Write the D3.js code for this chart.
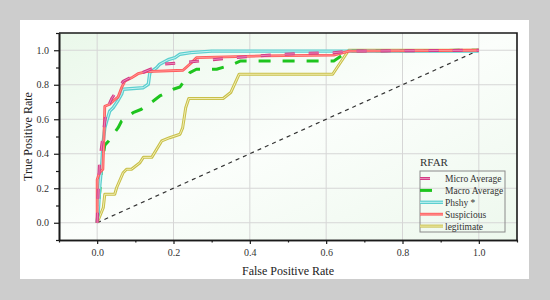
<!DOCTYPE html>
<html>
<head>
<meta charset="utf-8">
<script src="https://cdn.jsdelivr.net/npm/d3@7"></script>
<style>
  body { margin: 0; background: #cdcdcd; }
  svg { display: block; }
</style>
</head>
<body>
<div id="chart"></div>
<script>
// ROC curves
var microX = [0, 0.002, 0.004, 0.006, 0.012, 0.018, 0.022, 0.03, 0.038, 0.05, 0.068, 0.09, 0.112, 0.14, 0.173, 0.225, 0.287, 0.356, 0.417, 0.49, 0.55, 0.62, 0.66, 1.0];
var microY = [0, 0.14, 0.25, 0.34, 0.45, 0.55, 0.62, 0.68, 0.72, 0.76, 0.82, 0.845, 0.864, 0.89, 0.919, 0.928, 0.942, 0.957, 0.967, 0.977, 0.983, 0.986, 0.995, 1.0];

var macroX = [0, 0.003, 0.007, 0.012, 0.02, 0.03, 0.055, 0.064, 0.094, 0.116, 0.147, 0.164, 0.199, 0.217, 0.243, 0.26, 0.313, 0.356, 0.376, 0.62, 0.645, 0.66, 1.0];
var macroY = [0, 0.1, 0.184, 0.33, 0.45, 0.474, 0.551, 0.59, 0.638, 0.658, 0.706, 0.735, 0.774, 0.787, 0.87, 0.89, 0.89, 0.919, 0.938, 0.938, 0.975, 0.996, 1.0];

var phishyX = [0, 0.004, 0.007, 0.011, 0.016, 0.02, 0.025, 0.033, 0.042, 0.055, 0.064, 0.068, 0.121, 0.134, 0.138, 0.156, 0.164, 0.186, 0.204, 0.217, 0.245, 0.3, 1.0];
var phishyY = [0, 0.1, 0.22, 0.31, 0.474, 0.55, 0.59, 0.648, 0.667, 0.71, 0.745, 0.774, 0.783, 0.803, 0.87, 0.899, 0.919, 0.945, 0.957, 0.977, 0.986, 0.995, 0.995];

var suspX = [0, 0, 0.006, 0.015, 0.018, 0.02, 0.033, 0.042, 0.055, 0.064, 0.073, 0.09, 0.107, 0.129, 0.225, 0.247, 0.26, 0.43, 0.62, 0.66, 1.0];
var suspY = [0, 0.25, 0.29, 0.31, 0.52, 0.675, 0.687, 0.706, 0.73, 0.783, 0.822, 0.84, 0.864, 0.876, 0.884, 0.928, 0.957, 0.967, 0.972, 0.995, 1.0];

var legitX = [0, 0.016, 0.02, 0.046, 0.051, 0.068, 0.077, 0.09, 0.112, 0.121, 0.143, 0.169, 0.19, 0.217, 0.224, 0.232, 0.24, 0.33, 0.35, 0.372, 0.617, 0.659, 1.0];
var legitY = [0, 0.087, 0.165, 0.165, 0.203, 0.29, 0.31, 0.31, 0.348, 0.379, 0.379, 0.474, 0.493, 0.513, 0.55, 0.667, 0.72, 0.72, 0.755, 0.861, 0.861, 1.0, 1.0];

var chanceX = [0, 1];
var chanceY = [0, 1];

var majorTicks = [0, 0.2, 0.4, 0.6, 0.8, 1.0];
var minorTicks = [-0.1, 0.1, 0.3, 0.5, 0.7, 0.9, 1.1];

var seriesNames = ['Micro Average', 'Macro Average', 'Phshy *', 'Suspicious', 'legitimate'];
var legendTitle = 'RFAR';

var width = 550, height = 300;
var pLeft = 59, pRight = 517, pTop = 33, pBottom = 240;

var svg = d3.select('#chart').append('svg')
    .attr('width', width)
    .attr('height', height);

// white panel
svg.append('rect')
    .attr('x', 20).attr('y', 20)
    .attr('width', 509).attr('height', 259)
    .style('fill', '#ffffff');

var defs = svg.append('defs');
var grad = defs.append('linearGradient')
    .attr('id', 'bg')
    .attr('x1', '0').attr('y1', '0')
    .attr('x2', '1').attr('y2', '1');
grad.append('stop').attr('offset', '0%').attr('stop-color', '#eaf8ea');
grad.append('stop').attr('offset', '50%').attr('stop-color', '#fbfefb');
grad.append('stop').attr('offset', '100%').attr('stop-color', '#edf8ed');

var x = d3.scaleLinear().domain([-0.1, 1.1]).range([pLeft, pRight]);
var y = d3.scaleLinear().domain([-0.1, 1.1]).range([pBottom, pTop]);

svg.append('rect')
    .attr('x', pLeft).attr('y', pTop)
    .attr('width', pRight - pLeft).attr('height', pBottom - pTop)
    .style('fill', 'url(#bg)');

// grid
svg.append('g').selectAll('line').data(majorTicks)
  .enter().append('line')
    .attr('x1', function(d) { return x(d); })
    .attr('x2', function(d) { return x(d); })
    .attr('y1', pTop).attr('y2', pBottom)
    .style('stroke', '#d6d6d6').style('stroke-width', 1);
svg.append('g').selectAll('line').data(majorTicks)
  .enter().append('line')
    .attr('y1', function(d) { return y(d); })
    .attr('y2', function(d) { return y(d); })
    .attr('x1', pLeft).attr('x2', pRight)
    .style('stroke', '#d6d6d6').style('stroke-width', 1);

// axes
var fmt = d3.format('.1f');
svg.append('g')
    .attr('transform', 'translate(0,' + pBottom + ')')
    .call(d3.axisBottom(x).tickValues(majorTicks).tickFormat(fmt).tickSize(4).tickSizeOuter(0).tickPadding(5));
svg.append('g')
    .attr('transform', 'translate(' + pLeft + ',0)')
    .call(d3.axisLeft(y).tickValues(majorTicks).tickFormat(fmt).tickSize(5).tickSizeOuter(0).tickPadding(5));

svg.append('g')
    .attr('transform', 'translate(0,' + pBottom + ')')
    .call(d3.axisBottom(x).tickValues(minorTicks).tickFormat('').tickSize(2.5).tickSizeOuter(0));
svg.append('g')
    .attr('transform', 'translate(' + pLeft + ',0)')
    .call(d3.axisLeft(y).tickValues(minorTicks).tickFormat('').tickSize(3).tickSizeOuter(0));

svg.selectAll('.domain').style('stroke', '#1a1a1a').style('stroke-width', 1.6);
svg.selectAll('.tick line').style('stroke', '#1a1a1a').style('stroke-width', 1.2);
svg.selectAll('.tick text')
    .style('font-family', 'Liberation Serif, serif')
    .style('font-size', '10px')
    .style('fill', '#333');

// top and right frame
svg.append('path')
    .attr('d', 'M' + pLeft + ',' + pTop + 'H' + pRight + 'V' + pBottom)
    .style('fill', 'none')
    .style('stroke', '#1a1a1a')
    .style('stroke-width', 1.6);

function pts(xs, ys) {
  return xs.map(function(v, i) { return [v, ys[i]]; });
}

var line = d3.line()
    .x(function(d) { return x(d[0]); })
    .y(function(d) { return y(d[1]); });

var curves = [
  { data: pts(legitX, legitY), outer: '#c8c04a', inner: '#f2eeb4', w: 3, iw: 1, dash: null },
  { data: pts(macroX, macroY), outer: '#1ec41e', inner: null, w: 3, iw: 0, dash: '12,12' },
  { data: pts(phishyX, phishyY), outer: '#5ccfcf', inner: '#c8f2f2', w: 3.4, iw: 1, dash: null },
  { data: pts(suspX, suspY), outer: '#ff5c5c', inner: '#ffa0a0', w: 2.8, iw: 0.8, dash: null },
  { data: pts(microX, microY), outer: '#d43c86', inner: '#ec86b6', w: 3, iw: 1, dash: '10,14' }
];

// chance diagonal
svg.append('path')
    .datum(pts(chanceX, chanceY))
    .attr('d', line)
    .style('fill', 'none')
    .style('stroke', '#333')
    .style('stroke-width', 1.2)
    .style('stroke-dasharray', '4,4');

curves.forEach(function(c) {
  svg.append('path')
      .datum(c.data)
      .attr('d', line)
      .style('fill', 'none')
      .style('stroke', c.outer)
      .style('stroke-width', c.w)
      .style('stroke-linejoin', 'round')
      .style('stroke-dasharray', c.dash);
  if (c.inner) {
    svg.append('path')
        .datum(c.data)
        .attr('d', line)
        .style('fill', 'none')
        .style('stroke', c.inner)
        .style('stroke-width', c.iw)
        .style('stroke-dasharray', c.dash);
  }
});

// axis titles
svg.append('text')
    .attr('x', (pLeft + pRight) / 2)
    .attr('y', 275)
    .attr('text-anchor', 'middle')
    .style('font-family', 'Liberation Serif, serif')
    .style('font-size', '12px')
    .style('fill', '#222')
    .text('False Positive Rate');

svg.append('text')
    .attr('transform', 'translate(32,' + ((pTop + pBottom) / 2) + ') rotate(-90)')
    .attr('text-anchor', 'middle')
    .style('font-family', 'Liberation Serif, serif')
    .style('font-size', '12px')
    .style('fill', '#222')
    .text('True Positive Rate');

// legend
var legendOrder = [4, 1, 2, 3, 0];
svg.append('text')
    .attr('x', 420).attr('y', 166)
    .style('font-family', 'Liberation Serif, serif')
    .style('font-size', '11px')
    .style('fill', '#333')
    .text(legendTitle);

svg.append('rect')
    .attr('x', 420).attr('y', 171)
    .attr('width', 85).attr('height', 61)
    .style('fill', 'none')
    .style('stroke', '#8a8a8a')
    .style('stroke-width', 1);

var legend = svg.append('g').selectAll('g')
    .data(seriesNames)
  .enter().append('g')
    .attr('transform', function(d, i) { return 'translate(420,' + (178.5 + i * 11.9) + ')'; });

legend.each(function(d, i) {
  var c = curves[legendOrder[i]];
  var g = d3.select(this);
  g.append('line')
      .attr('x1', 0).attr('x2', 23)
      .style('stroke', c.outer)
      .style('stroke-width', c.w)
      .style('stroke-dasharray', c.dash);
  if (c.inner) {
    g.append('line')
        .attr('x1', 0).attr('x2', 23)
        .style('stroke', c.inner)
        .style('stroke-width', c.iw)
        .style('stroke-dasharray', c.dash);
  }
  g.append('text')
      .attr('x', 25).attr('y', 3.5)
      .style('font-family', 'Liberation Serif, serif')
      .style('font-size', '9.5px')
      .style('fill', '#333')
      .text(d);
});
</script>
</body>
</html>
